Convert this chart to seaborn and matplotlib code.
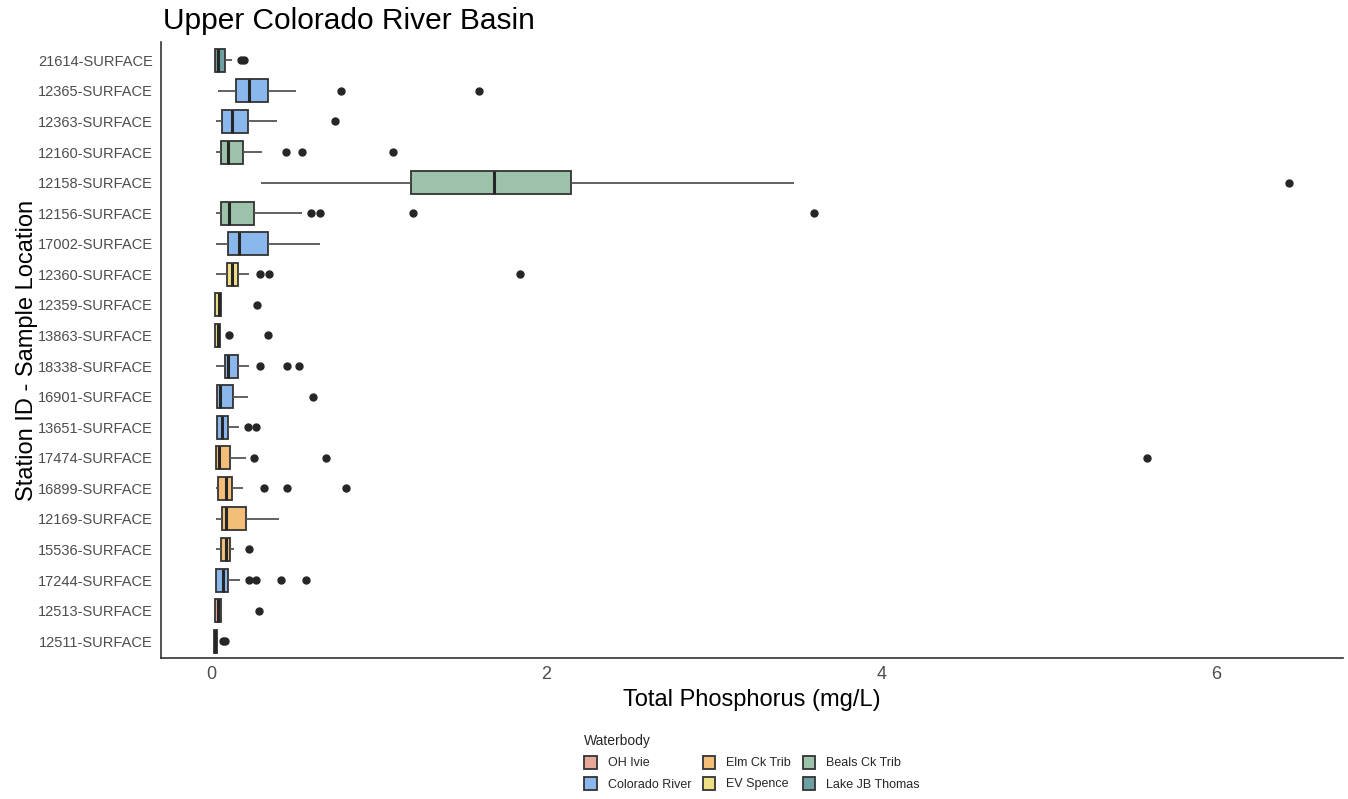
import numpy as np
import pandas as pd
import matplotlib
matplotlib.use("Agg")
import matplotlib.pyplot as plt
import seaborn as sns

# stations top -> bottom, with waterbody of each
stations = ["21614-SURFACE", "12365-SURFACE", "12363-SURFACE", "12160-SURFACE",
            "12158-SURFACE", "12156-SURFACE", "17002-SURFACE", "12360-SURFACE",
            "12359-SURFACE", "13863-SURFACE", "18338-SURFACE", "16901-SURFACE",
            "13651-SURFACE", "17474-SURFACE", "16899-SURFACE", "12169-SURFACE",
            "15536-SURFACE", "17244-SURFACE", "12513-SURFACE", "12511-SURFACE"]
waterbody = ["Lake JB Thomas", "Colorado River", "Colorado River", "Beals Ck Trib",
             "Beals Ck Trib", "Beals Ck Trib", "Colorado River", "EV Spence",
             "EV Spence", "EV Spence", "Colorado River", "Colorado River",
             "Colorado River", "Elm Ck Trib", "Elm Ck Trib", "Elm Ck Trib",
             "Elm Ck Trib", "Colorado River", "OH Ivie", "OH Ivie"]

# total phosphorus samples (mg/L)
tp_values = [
    [0.024, 0.024, 0.024, 0.024, 0.03, 0.034, 0.038, 0.05, 0.065, 0.08, 0.124, 0.175, 0.195],
    [0.038, 0.09, 0.12, 0.145, 0.18, 0.2, 0.227, 0.26, 0.3, 0.336, 0.507, 0.776, 1.596],
    [0.03, 0.05, 0.066, 0.1, 0.125, 0.17, 0.217, 0.392, 0.736],
    [0.03, 0.04, 0.048, 0.054, 0.058, 0.07, 0.08, 0.09, 0.098, 0.12, 0.14, 0.16, 0.187,
     0.302, 0.444, 0.541, 1.085],
    [0.30, 0.85, 1.19, 1.45, 1.686, 1.95, 2.146, 3.479, 6.436],
    [0.029, 0.035, 0.04, 0.048, 0.054, 0.059, 0.07, 0.08, 0.09, 0.1, 0.108, 0.13, 0.16,
     0.19, 0.22, 0.258, 0.543, 0.598, 0.651, 1.203, 3.598],
    [0.028, 0.098, 0.163, 0.336, 0.647],
    [0.028, 0.05, 0.07, 0.085, 0.096, 0.105, 0.112, 0.12, 0.125, 0.135, 0.142, 0.15, 0.157,
     0.223, 0.294, 0.344, 1.843],
    [0.024, 0.024, 0.024, 0.035, 0.044, 0.052, 0.06, 0.066, 0.275],
    [0.024, 0.024, 0.024, 0.024, 0.03, 0.034, 0.038, 0.042, 0.048, 0.052, 0.055, 0.108, 0.336],
    [0.028, 0.05, 0.065, 0.075, 0.082, 0.088, 0.092, 0.096, 0.1, 0.115, 0.13, 0.145, 0.157,
     0.223, 0.294, 0.454, 0.525],
    [0.028, 0.032, 0.036, 0.045, 0.054, 0.09, 0.131, 0.217, 0.605],
    [0.028, 0.03, 0.033, 0.036, 0.045, 0.054, 0.062, 0.075, 0.088, 0.1, 0.165, 0.217, 0.267],
    [0.026, 0.026, 0.026, 0.026, 0.026, 0.03, 0.035, 0.04, 0.046, 0.06, 0.075, 0.09, 0.109,
     0.207, 0.257, 0.685, 5.588],
    [0.028, 0.03, 0.033, 0.036, 0.038, 0.05, 0.065, 0.078, 0.088, 0.098, 0.108, 0.118, 0.125,
     0.189, 0.316, 0.454, 0.806],
    [0.028, 0.064, 0.086, 0.207, 0.402],
    [0.028, 0.045, 0.058, 0.075, 0.088, 0.1, 0.109, 0.133, 0.225],
    [0.028, 0.028, 0.029, 0.029, 0.03, 0.03, 0.04, 0.05, 0.058, 0.065, 0.072, 0.078, 0.084,
     0.09, 0.095, 0.1, 0.173, 0.225, 0.267, 0.416, 0.565],
    [0.024, 0.024, 0.024, 0.032, 0.04, 0.05, 0.06, 0.062, 0.287],
    [0.018, 0.018, 0.018, 0.018, 0.02, 0.022, 0.024, 0.027, 0.03, 0.034, 0.036, 0.07, 0.085],
]

waterbody_order = ["OH Ivie", "Colorado River", "Elm Ck Trib", "EV Spence",
                   "Beals Ck Trib", "Lake JB Thomas"]
colors = ["#E8A898", "#8AB8EC", "#F2BE78", "#EEDF86", "#9CC2AA", "#6E9FA2"]

rows = []
for st, wb, vals in zip(stations, waterbody, tp_values):
    for v in vals:
        rows.append((st, wb, v))
df = pd.DataFrame(rows, columns=["station", "waterbody", "tp"])

sns.set_style("white")
plt.rcParams["font.family"] = ["Liberation Sans", "DejaVu Sans"]

fig = plt.figure(figsize=(13.48, 7.99), dpi=100)
ax = fig.add_axes([161/1348, 1 - 658/799, (1343 - 161)/1348, (658 - 42)/799])

sns.boxplot(data=df, x="tp", y="station", hue="waterbody", order=stations,
            hue_order=waterbody_order, palette=dict(zip(waterbody_order, colors)),
            dodge=False, width=0.75, saturation=1, linewidth=1.3, linecolor="#333333",
            showcaps=False, fliersize=5,
            flierprops=dict(marker="o", markerfacecolor="#262626",
                            markeredgecolor="#262626"),
            medianprops=dict(color="#262626", linewidth=2.2),
            whiskerprops=dict(color="#555555"),
            ax=ax)

ax.set_xlim(-0.30, 6.757)
ax.set_ylim(19.55, -0.6)
ax.set_xticks([0, 2, 4, 6])
ax.set_xlabel("Total Phosphorus (mg/L)", fontsize=17, color="black", labelpad=4)
ax.set_ylabel("Station ID - Sample Location", fontsize=17, color="black", labelpad=0)
ax.tick_params(axis="x", labelsize=13, colors="#4d4d4d", length=3, width=1, pad=3)
ax.tick_params(axis="y", labelsize=10.5, colors="#4d4d4d", length=3, width=1, pad=3)
ax.tick_params(axis="both", color="#333333")
for side in ["top", "right"]:
    ax.spines[side].set_visible(False)
for side in ["left", "bottom"]:
    ax.spines[side].set_color("#333333")
    ax.spines[side].set_linewidth(1.2)

fig.text(163/1348, 1 - 21/799, "Upper Colorado River Basin", fontsize=21.5,
         va="center", ha="left", color="black")

sns.move_legend(ax, loc="upper left", bbox_to_anchor=(573/1348, 1 - 723/799),
                bbox_transform=fig.transFigure, ncol=3, title="Waterbody",
                frameon=False, fontsize=9, title_fontsize=10,
                handlelength=1.0, handleheight=1.2, columnspacing=0.9,
                labelspacing=0.6, handletextpad=0.9)
ax.get_legend()._legend_box.align = "left"

fig.savefig("out.png", dpi=100)
